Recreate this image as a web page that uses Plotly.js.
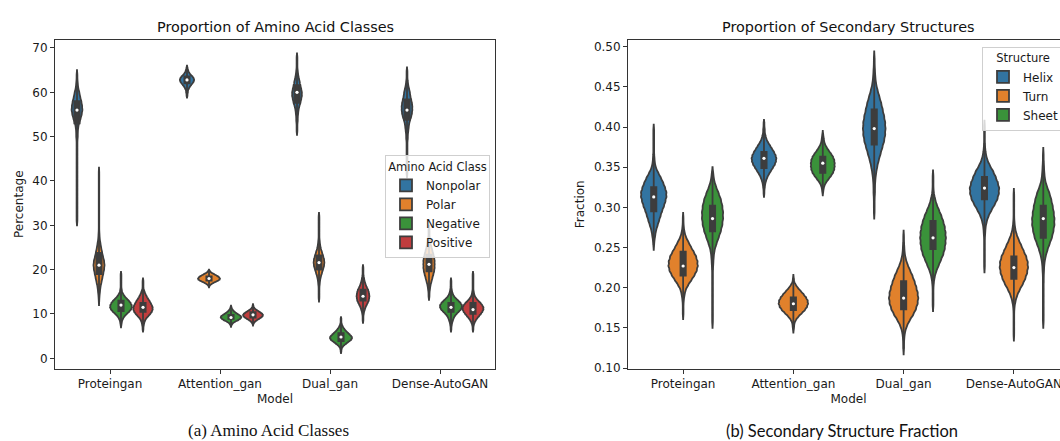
<!DOCTYPE html>
<html>
<head>
<meta charset="utf-8">
<script src="https://cdn.plot.ly/plotly-3.0.1.min.js"></script>
<style>
html,body{margin:0;padding:0;overflow:hidden;background:#fff;}
#chart{width:1075px;height:441px;}
</style>
</head>
<body>
<div id="chart"></div>
<script>
// ---------------- DATA ----------------
const aaModels = ['Proteingan', 'Attention_gan', 'Dual_gan', 'Dense-AutoGAN'];
const aaClasses = ['Nonpolar', 'Polar', 'Negative', 'Positive'];
const aaTicks = [0, 10, 20, 30, 40, 50, 60, 70];

// Each violin = frequency table: first level, level step, counts per level (one entry per model)
const nonpolarStart = [31, 59.2, 51.2, 41.6];
const nonpolarStep = [1.0, 0.4, 0.8, 0.8];
const nonpolarCounts = [
  [1,1,1,1,1,1,1,1,1,1,1,1,1,1,1,1,1,1,1,2,2,3,5,9,12,14,13,11,8,6,3,2,1,1],
  [1,1,2,2,4,6,9,12,15,16,15,12,8,5,3,2,1],
  [1,1,1,2,2,3,4,6,9,11,13,13,11,9,7,5,3,2,1,1,1,1],
  [1,1,1,1,1,1,1,1,1,1,2,2,3,4,5,7,10,12,13,13,12,10,8,7,5,3,2,1,1,1]
];
const polarStart = [13, 16.25, 13.6, 14.0];
const polarStep = [1.0, 0.25, 0.8, 0.8];
const polarCounts = [
  [1,2,4,6,10,14,18,22,24,22,17,13,9,6,3,2,1,1,1,1,1,1,1,1,1,1,1,1,1,1],
  [1,3,7,12,19,25,30,31,29,25,20,14,8,4,2],
  [1,1,1,1,2,3,5,8,11,14,15,14,11,8,5,3,2,1,1,1,1,1,1,1],
  [1,1,2,3,5,7,9,11,12,12,12,11,9,7,5,3,2,1,1,1]
];
const negativeStart = [7.5, 7.4, 1.5, 6.5];
const negativeStep = [0.5, 0.3, 0.3, 0.5];
const negativeCounts = [
  [1,2,3,6,10,16,23,28,31,30,27,22,16,10,6,3,2,1,1,1,1,1,1,1],
  [1,3,6,12,19,25,28,27,22,16,11,7,4,2,1],
  [1,1,2,3,6,10,15,20,25,30,32,32,29,25,21,17,13,10,7,5,3,2,1,1,1,1],
  [1,1,2,3,5,7,10,15,21,27,30,30,26,20,14,8,5,3,2,1,1,1,1]
];
const positiveStart = [6.5, 7.7, 8.5, 6.5];
const positiveStep = [0.5, 0.3, 0.5, 0.5];
const positiveCounts = [
  [1,1,2,3,5,8,13,18,22,24,24,22,19,16,12,9,6,4,2,1,1,1,1],
  [1,3,6,11,17,23,27,28,25,20,14,8,4,2,1],
  [1,1,1,2,3,5,7,10,13,16,17,18,17,16,14,11,8,6,4,3,2,1,1,1,1],
  [1,1,2,4,7,11,16,21,25,28,28,25,20,14,9,5,3,2,1,1,1,1,1,1,1,1]
];

const ssModels = ['Proteingan', 'Attention_gan', 'Dual_gan', 'Dense-AutoGAN'];
const ssStructures = ['Helix', 'Turn', 'Sheet'];
const ssTicks = [0.10, 0.15, 0.20, 0.25, 0.30, 0.35, 0.40, 0.45, 0.50];

const helixStart = [0.253, 0.317, 0.294, 0.226];
const helixStep = [0.006, 0.004, 0.008, 0.007];
const helixCounts = [
  [1,2,4,6,10,14,18,22,27,31,34,34,30,25,19,12,6,3,2,1,1,1,1,1,1],
  [1,1,2,3,5,8,12,17,22,27,30,31,29,25,20,15,10,6,4,2,2,1,1],
  [1,1,1,2,2,3,5,8,12,17,22,27,30,31,30,27,23,19,14,9,5,3,2,1,1],
  [1,1,1,1,1,1,2,3,6,11,19,28,36,40,41,37,31,24,15,8,4,2,1,1,1,1]
];
const turnStart = [0.167, 0.148, 0.124, 0.141];
const turnStep = [0.006, 0.004, 0.007, 0.007];
const turnCounts = [
  [1,1,1,2,4,7,14,23,32,39,42,41,37,30,22,15,8,4,2,1,1],
  [1,2,3,7,14,23,32,38,41,40,35,28,20,12,6,2,1],
  [1,1,2,4,9,17,27,35,40,42,40,36,31,25,18,11,6,3,2,1,1],
  [1,1,1,1,1,2,5,10,18,28,36,42,45,44,39,31,23,15,8,4,2,1,1,1,1,1]
];
const sheetStart = [0.158, 0.319, 0.178, 0.158];
const sheetStep = [0.008, 0.004, 0.007, 0.008];
const sheetCounts = [
  [1,1,1,1,1,1,1,1,1,2,3,5,10,16,22,26,28,28,26,22,16,9,4,2],
  [1,2,4,8,14,20,25,28,29,29,28,25,20,14,9,5,3,2,1],
  [1,1,1,1,2,4,8,14,20,26,30,32,33,32,30,26,21,15,9,5,2,1,1,1],
  [1,1,1,1,1,1,1,1,2,3,6,11,17,24,28,31,31,29,26,22,17,10,5,3,2,1,1]
];

// ---------------- STYLE ----------------
const aaColors = ['#3274a1', '#e1812c', '#3a923a', '#c03d3e'];
const ssColors = ['#3274a1', '#e1812c', '#3a923a'];
const gray = '#3d3d3d';
const W = 1075, H = 441;

function expand(start, step, counts) {
  const out = [];
  counts.forEach((c, i) => {
    const v = +(start + i * step).toFixed(5);
    for (let k = 0; k < c; k++) out.push(v);
  });
  return out;
}
function median(a) {
  const b = a.slice().sort((p, q) => p - q);
  const n = b.length;
  return n % 2 ? b[(n - 1) / 2] : (b[n / 2 - 1] + b[n / 2]) / 2;
}

const traces = [];
function addPanel(models, hues, colors, starts, steps, counts, xa, ya, legendId, boxw) {
  const slot = 0.8 / hues.length;
  const mx = [], my = [];
  hues.forEach((h, j) => {
    models.forEach((m, i) => {
      const ys = expand(starts[j][i], steps[j][i], counts[j][i]);
      const x0 = +(i + (j - (hues.length - 1) / 2) * slot).toFixed(6);
      traces.push({
        type: 'violin', y: ys, x0: x0, name: h,
        legendgroup: legendId + h, showlegend: i === 0, legend: legendId,
        xaxis: xa, yaxis: ya,
        scalegroup: xa + '_' + m, scalemode: 'width',
        bandwidth: steps[j][i] * 0.5, spanmode: 'soft', points: false,
        fillcolor: colors[j], line: {color: gray, width: 1.8},
        box: {visible: true, width: boxw, fillcolor: gray, line: {color: gray, width: 1.8}},
        meanline: {visible: false}, hoverinfo: 'y'
      });
      mx.push(x0); my.push(median(ys));
    });
  });
  traces.push({
    type: 'scatter', mode: 'markers', x: mx, y: my, xaxis: xa, yaxis: ya,
    showlegend: false, hoverinfo: 'skip',
    marker: {color: 'white', size: 3.2, symbol: 'circle', line: {width: 0}}
  });
}

addPanel(aaModels, aaClasses, aaColors,
  [nonpolarStart, polarStart, negativeStart, positiveStart],
  [nonpolarStep, polarStep, negativeStep, positiveStep],
  [nonpolarCounts, polarCounts, negativeCounts, positiveCounts],
  'x', 'y', 'legend', 0.24);
addPanel(ssModels, ssStructures, ssColors,
  [helixStart, turnStart, sheetStart],
  [helixStep, turnStep, sheetStep],
  [helixCounts, turnCounts, sheetCounts],
  'x2', 'y2', 'legend2', 0.18);

const axisFont = {family: 'DejaVu Sans', size: 12, color: '#1a1a1a'};
const ydom = [1 - 368.5 / H, 1 - 40 / H];
function xAxis(dom, anchor, labels) {
  return {
    domain: dom, anchor: anchor, range: [-0.5, 3.5], tickvals: [0, 1, 2, 3], ticktext: labels,
    showline: true, mirror: true, linecolor: '#333', linewidth: 1,
    ticks: 'outside', ticklen: 4, tickcolor: '#333', tickwidth: 1,
    showgrid: false, zeroline: false, tickfont: axisFont,
    title: {text: 'Model', font: axisFont, standoff: 4}
  };
}
function yAxis(anchor, range, ticks, fmt, label) {
  return {
    domain: ydom, anchor: anchor, range: range, tickvals: ticks, tickformat: fmt,
    showline: true, mirror: true, linecolor: '#333', linewidth: 1,
    ticks: 'outside', ticklen: 4, tickcolor: '#333', tickwidth: 1,
    showgrid: false, zeroline: false, tickfont: axisFont,
    title: {text: label, font: axisFont, standoff: 6}
  };
}
function legendCfg(xr, yt, title) {
  return {
    x: xr / W, xanchor: 'right', y: 1 - yt / H, yanchor: 'top',
    bgcolor: 'rgba(255,255,255,0.8)', bordercolor: '#cfcfcf', borderwidth: 1,
    font: {family: 'DejaVu Sans', size: 12, color: '#1a1a1a'},
    title: {text: title, side: 'top center', font: {family: 'DejaVu Sans', size: 11.5, color: '#1a1a1a'}},
    tracegroupgap: 0, traceorder: 'normal'
  };
}

const layout = {
  width: W, height: H, margin: {l: 0, r: 0, t: 0, b: 0},
  paper_bgcolor: 'white', plot_bgcolor: 'white',
  violinmode: 'overlay', violingap: 0, violingroupgap: 0,
  font: {family: 'DejaVu Sans', size: 12, color: '#1a1a1a'},
  xaxis: xAxis([55 / W, 495 / W], 'y', aaModels),
  yaxis: yAxis('x', [-2.3, 71.8], aaTicks, '', 'Percentage'),
  xaxis2: xAxis([628 / W, 1069 / W], 'y2', ssModels),
  yaxis2: yAxis('x2', [0.0994, 0.5083], ssTicks, '.2f', 'Fraction'),
  legend: legendCfg(490, 155, 'Amino Acid Class'),
  legend2: legendCfg(1064, 46.5, 'Structure'),
  annotations: [
    {text: 'Proportion of Amino Acid Classes', xref: 'paper', yref: 'paper', x: 275 / W, y: 1 - 27 / H,
     xanchor: 'center', yanchor: 'middle', showarrow: false, font: {family: 'DejaVu Sans', size: 14.4, color: '#111'}},
    {text: 'Proportion of Secondary Structures', xref: 'paper', yref: 'paper', x: 848.5 / W, y: 1 - 27 / H,
     xanchor: 'center', yanchor: 'middle', showarrow: false, font: {family: 'DejaVu Sans', size: 14.4, color: '#111'}},
    {text: '(a) Amino Acid Classes', xref: 'paper', yref: 'paper', x: 268 / W, y: 1 - 430 / H,
     xanchor: 'center', yanchor: 'middle', showarrow: false, font: {family: 'Liberation Serif', size: 17, color: '#111'}},
    {text: '(b) Secondary Structure Fraction', xref: 'paper', yref: 'paper', x: 842 / W, y: 1 - 431 / H,
     xanchor: 'center', yanchor: 'middle', showarrow: false, font: {family: 'Lato', size: 16.5, color: '#111'}}
  ]
};

Plotly.newPlot('chart', traces, layout, {displayModeBar: false, staticPlot: true});
</script>
</body>
</html>
